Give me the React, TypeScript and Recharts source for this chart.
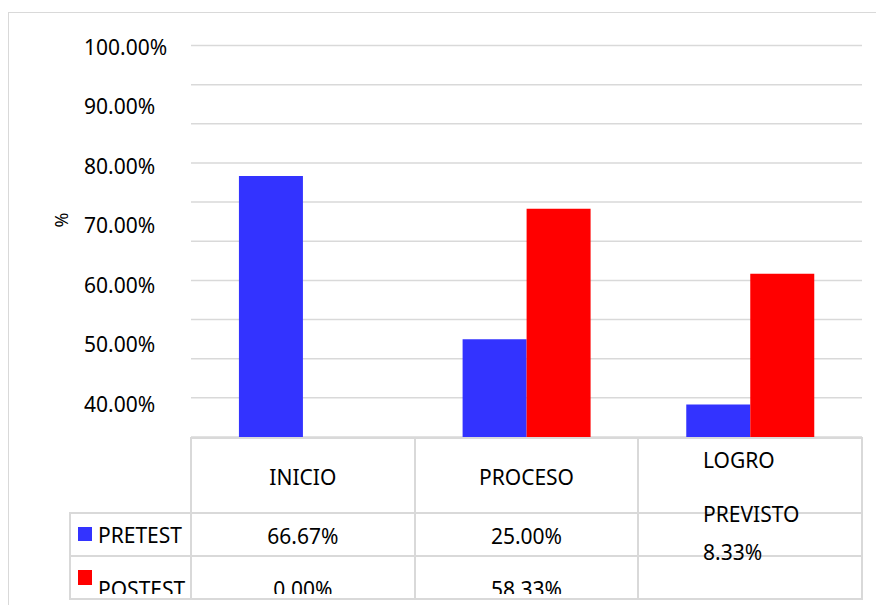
import { BarChart, Bar, XAxis, YAxis, CartesianGrid } from 'recharts';

// ---------------------------------------------------------------------------
// Data
// ---------------------------------------------------------------------------

const categories = ['INICIO', 'PROCESO', 'LOGRO PREVISTO'];
const pretest = [66.67, 25.0, 8.33];
const postest = [0.0, 58.33, 41.67];
const gridTicks = [0, 10, 20, 30, 40, 50, 60, 70, 80, 90, 100];
const labelTicks = [40, 50, 60, 70, 80, 90, 100];
const labelDomain = [34.46, 100.2];

const data = categories.map((c, i) => ({ name: c, pretest: pretest[i], postest: postest[i] }));

// ---------------------------------------------------------------------------
// Layout
// ---------------------------------------------------------------------------

const W = 876;
const H = 605;
const PLOT_L = 191;
const PLOT_R = 862;
const PLOT_T = 45.5;
const PLOT_B = 437;
const COL_W = (PLOT_R - PLOT_L) / 3;
const BLUE = '#3333ff';
const RED = '#ff0000';
const LINE = '#d9d9d9';
const FONT = '"Noto Sans", "Open Sans", sans-serif';
const FS = 21;

const fmtPct = (v: number) => `${v.toFixed(2)}%`;

function LabelTick(props: any) {
  const { y, payload } = props;
  return (
    <text x={84} y={y} dominantBaseline="central" textAnchor="start" fontSize={FS} fill="#000" fontFamily={FONT}>
      {fmtPct(payload.value)}
    </text>
  );
}

function Txt({ cx, cy, children, left }: { cx: number; cy: number; children: any; left?: boolean }) {
  return (
    <div
      style={{
        position: 'absolute',
        left: left ? cx : cx - 100,
        width: left ? undefined : 200,
        top: cy - 14,
        height: 28,
        lineHeight: '28px',
        textAlign: left ? 'left' : 'center',
        whiteSpace: 'nowrap',
        fontSize: FS,
        color: '#000',
      }}
    >
      {children}
    </div>
  );
}

function HLine({ x1, x2, y }: { x1: number; x2: number; y: number }) {
  return <div style={{ position: 'absolute', left: x1, top: y - 1, width: x2 - x1, height: 2, background: LINE }} />;
}

function VLine({ x, y1, y2 }: { x: number; y1: number; y2: number }) {
  return <div style={{ position: 'absolute', left: x - 1, top: y1, width: 2, height: y2 - y1, background: LINE }} />;
}

export default function App() {
  const colCenter = (i: number) => PLOT_L + COL_W * (i + 0.5);
  const rowPre = 513;
  const rowPost = 556;
  const tableBottom = 599;

  return (
    <div style={{ position: 'absolute', left: 0, top: 0, width: W, height: H, overflow: 'hidden', background: '#fff', fontFamily: FONT }}>
      {/* outer chart border */}
      <div style={{ position: 'absolute', left: 8, top: 12, width: W + 20, height: H + 20, border: `1.5px solid ${LINE}` }} />

      <div style={{ position: 'absolute', left: 0, top: 0 }}>
        <BarChart
          width={W}
          height={H}
          data={data}
          margin={{ top: PLOT_T, right: W - PLOT_R, bottom: H - PLOT_B, left: 0 }}
          barCategoryGap="21.43%"
          barGap={0}
        >
          <CartesianGrid yAxisId="v" vertical={false} horizontalValues={gridTicks} stroke={LINE} strokeWidth={1.5} />
          <XAxis dataKey="name" height={0} tick={false} tickLine={false} axisLine={false} />
          <YAxis yAxisId="lbl" type="number" domain={labelDomain} ticks={labelTicks} allowDataOverflow width={PLOT_L}
            axisLine={false} tickLine={false} tick={<LabelTick />} />
          <YAxis yAxisId="v" type="number" domain={[0, 100]} ticks={gridTicks} width={0}
            axisLine={false} tickLine={false} tick={{ fill: 'transparent', fontSize: 1 }} />
          <Bar yAxisId="v" dataKey="pretest" name="PRETEST" fill={BLUE} isAnimationActive={false} />
          <Bar yAxisId="v" dataKey="postest" name="POSTEST" fill={RED} isAnimationActive={false} />
        </BarChart>
      </div>

      {/* axis title */}
      <div style={{ position: 'absolute', left: 61 - 20, top: 220 - 12, width: 40, height: 24, lineHeight: '24px', textAlign: 'center', fontSize: 18, transform: 'rotate(-90deg)' }}>
        %
      </div>

      {/* data table */}
      <HLine x1={PLOT_L - 1} x2={PLOT_R + 1} y={PLOT_B + 0.5} />
      <HLine x1={69} x2={PLOT_R + 1} y={rowPre} />
      <HLine x1={69} x2={PLOT_R + 1} y={rowPost} />
      <HLine x1={69} x2={PLOT_R + 1} y={tableBottom} />
      <VLine x={70} y1={rowPre} y2={tableBottom} />
      {[0, 1, 2, 3].map((i) => (
        <VLine key={i} x={PLOT_L + COL_W * i} y1={PLOT_B} y2={tableBottom} />
      ))}

      {/* header row */}
      <Txt cx={colCenter(0)} cy={477}>{categories[0]}</Txt>
      <Txt cx={colCenter(1)} cy={477}>{categories[1]}</Txt>
      <Txt cx={703} cy={460} left>{categories[2].split(' ')[0]}</Txt>
      <Txt cx={703} cy={514} left>{categories[2].split(' ')[1]}</Txt>
      <Txt cx={703} cy={552} left>{fmtPct(pretest[2])}</Txt>

      {/* PRETEST row */}
      <div style={{ position: 'absolute', left: 78, top: 527, width: 14, height: 14, background: BLUE }} />
      <Txt cx={98} cy={535} left>PRETEST</Txt>
      <Txt cx={colCenter(0)} cy={536}>{fmtPct(pretest[0])}</Txt>
      <Txt cx={colCenter(1)} cy={536}>{fmtPct(pretest[1])}</Txt>

      {/* POSTEST row (clipped, as in the source) */}
      <div style={{ position: 'absolute', left: 78, top: 570, width: 14, height: 15, background: RED }} />
      <div style={{ position: 'absolute', left: 0, top: rowPost + 2, width: W, height: 36, overflow: 'hidden' }}>
        <div style={{ position: 'absolute', left: 0, top: -(rowPost + 2) }}>
          <Txt cx={98} cy={589} left>POSTEST</Txt>
          <Txt cx={colCenter(0)} cy={589}>{fmtPct(postest[0])}</Txt>
          <Txt cx={colCenter(1)} cy={589}>{fmtPct(postest[1])}</Txt>
        </div>
      </div>
    </div>
  );
}
